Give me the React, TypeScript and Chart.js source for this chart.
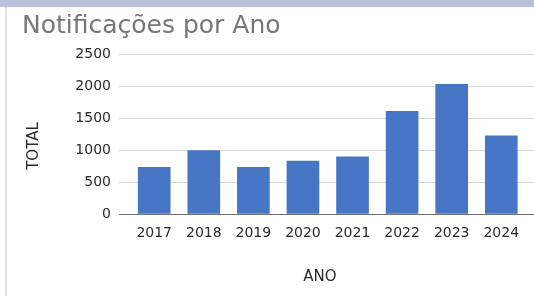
import React, { useEffect, useRef } from "react";
import { Chart, registerables } from "chart.js";

Chart.register(...registerables);

const TITLE = "Notificações por Ano";
const YEARS = ["2017", "2018", "2019", "2020", "2021", "2022", "2023", "2024"];
const TOTALS = [730, 990, 730, 825, 895, 1605, 2025, 1220];
const Y_TICKS = [0, 500, 1000, 1500, 2000, 2500];
const X_TITLE = "ANO";
const Y_TITLE = "TOTAL";

const axisTitles = {
  id: "axisTitles",
  afterDraw(chart: any) {
    const ctx = chart.ctx;
    ctx.save();
    ctx.fillStyle = "#2a2a2a";
    ctx.font = "15px 'DejaVu Sans'";
    ctx.textAlign = "center";
    ctx.textBaseline = "middle";
    ctx.fillText(X_TITLE, 320, 277);
    ctx.translate(34, 146);
    ctx.rotate(-Math.PI / 2);
    ctx.font = "15px 'DejaVu Sans'";
    ctx.fillText(Y_TITLE, 0, 0);
    ctx.restore();
  },
};

export default function App() {
  const ref = useRef<HTMLCanvasElement | null>(null);

  useEffect(() => {
    const canvas = ref.current;
    if (!canvas) return;
    const chart = new Chart(canvas, {
      type: "bar",
      data: {
        datasets: [
          {
            label: Y_TITLE,
            data: TOTALS.map((v, i) => ({ x: i, y: v })),
            backgroundColor: "#4676C4",
            borderWidth: 0,
            barThickness: 32,
          },
        ],
      },
      plugins: [axisTitles],
      options: {
        responsive: false,
        animation: false,
        devicePixelRatio: 1,
        layout: { padding: { top: 7, left: 22, right: 0, bottom: 0 } },
        plugins: {
          legend: { display: false },
          tooltip: { enabled: false },
          title: {
            display: true,
            text: TITLE,
            align: "start",
            color: "#777777",
            font: { family: "'DejaVu Sans'", size: 25, weight: "normal" },
            padding: { top: 4, bottom: 13 },
          },
        },
        scales: {
          x: {
            type: "linear",
            offset: false,
            min: -0.71,
            max: 7.66,
            afterBuildTicks: (s: any) => {
              s.ticks = YEARS.map((_, i) => ({ value: i }));
            },
            afterFit: (s: any) => {
              s.height = 82;
            },
            ticks: {
              callback: (v: any) => YEARS[Math.round(Number(v))] ?? "",
              color: "#2a2a2a",
              font: { family: "'DejaVu Sans'", size: 14 },
              padding: 11,
              maxRotation: 0,
              autoSkip: false,
            },
            grid: { display: false, drawTicks: false, offset: false },
            border: { display: true, color: "#6e6e6e", width: 1 },
            title: { display: false },
          },
          y: {
            min: 0,
            max: 2500,
            afterBuildTicks: (s: any) => {
              s.ticks = Y_TICKS.map((v) => ({ value: v }));
            },
            afterFit: (s: any) => {
              s.width = 97;
            },
            ticks: {
              callback: (v: any) => String(v),
              color: "#2a2a2a",
              font: { family: "'DejaVu Sans'", size: 14 },
              padding: 8,
            },
            grid: { color: "#d9d9d9", drawTicks: false },
            border: { display: false },
            title: { display: false },
          },
        },
      },
    });
    return () => chart.destroy();
  }, []);

  return (
    <div
      style={{
        position: "fixed",
        left: 0,
        top: 0,
        width: 534,
        height: 296,
        background: "#ffffff",
        overflow: "hidden",
      }}
    >
      <div style={{ position: "absolute", left: 0, top: 0, width: 534, height: 7, background: "#b9c1d8" }} />
      <div style={{ position: "absolute", left: 5, top: 7, width: 2, height: 289, background: "#e2e2e2" }} />
      <canvas ref={ref} width={534} height={296} style={{ position: "absolute", left: 0, top: 0 }} />
    </div>
  );
}
